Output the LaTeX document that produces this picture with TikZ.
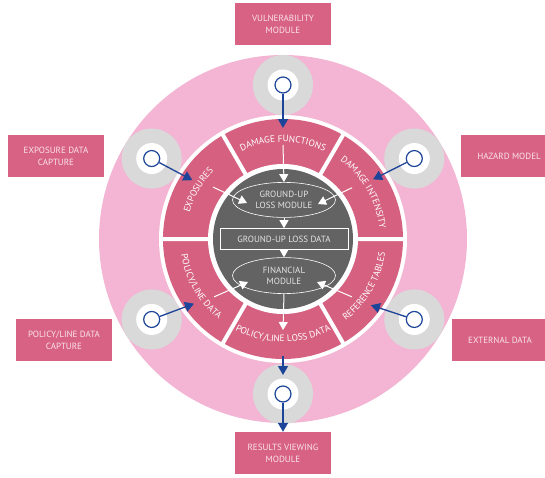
\documentclass[tikz,border=0pt]{standalone}
\usepackage{fontspec}
\setmainfont{PT Sans}
\usetikzlibrary{positioning,shapes.geometric,arrows.meta,decorations.text}

\definecolor{ringpink}{RGB}{243,181,211}
\definecolor{segpink}{RGB}{214,96,128}
\definecolor{boxpink}{RGB}{216,98,131}
\definecolor{satgray}{RGB}{217,217,217}
\definecolor{coregray}{RGB}{99,99,99}
\definecolor{linkblue}{RGB}{28,68,152}
\definecolor{boxtext}{RGB}{250,228,236}
\definecolor{coretext}{RGB}{228,228,228}

\newcommand{\segfont}{\fontsize{9.3}{10}\selectfont}

\tikzset{
  infobox/.style={fill=boxpink, text=boxtext, minimum width=96pt, minimum height=42pt, align=center, font=\fontsize{9}{12}\selectfont, inner sep=0pt},
  satdot/.style={circle, draw=linkblue, fill=white, line width=1.2pt, minimum size=16pt, inner sep=0pt},
  bluearrow/.style={color=linkblue, line width=1.3pt, -{Triangle[length=9pt,width=10pt]}},
  whitearrow/.style={color=white, line width=1pt, -{Triangle[length=8pt,width=9pt]}},
  coreshape/.style={draw=white, line width=0.6pt, text=coretext, align=center, font=\fontsize{9}{11}\selectfont, inner sep=0pt},
  segtext/.style={decorate, decoration={text along path, text align=center, text color=white}}
}

\begin{document}
\begin{tikzpicture}[x=1pt,y=1pt]
\useasboundingbox (-283,-238) rectangle (262,239);
% outer ring
\fill[ringpink] (0,0) circle[radius=184];
\coordinate (sv) at (90:154);
\coordinate (sh) at (31.5:154);
\coordinate (se) at (148.5:154);
\coordinate (sx) at (-31.5:154);
\coordinate (sp) at (-148.5:154);
\coordinate (sr) at (-90:155);
\fill[satgray] (sv) circle[radius=30] (sh) circle[radius=30] (se) circle[radius=30]
  (sx) circle[radius=30] (sp) circle[radius=30] (sr) circle[radius=30];
\fill[white] (sv) circle[radius=15.5] (sh) circle[radius=15.5] (se) circle[radius=15.5]
  (sx) circle[radius=15.5] (sp) circle[radius=15.5] (sr) circle[radius=15.5];
% segment ring
\fill[white] (0,0) circle[radius=124];
\fill[segpink] (0,0) circle[radius=120];
\fill[white] (0,0) circle[radius=75];
\fill[coregray] (0,0) circle[radius=70];
\draw[white, line width=4pt] (0:72) -- (0:122) (60:72) -- (60:122) (120:72) -- (120:122)
  (180:72) -- (180:122) (240:72) -- (240:122) (300:72) -- (300:122);
% segment labels
\path[segtext, decoration={text={|\segfont|DAMAGE FUNCTIONS}}] (120:97) arc[start angle=120, end angle=60, radius=97];
\path[segtext, decoration={text={|\segfont|DAMAGE INTENSITY}}] (60:97) arc[start angle=60, end angle=0, radius=97];
\path[segtext, decoration={text={|\segfont|EXPOSURES}}] (180:97) arc[start angle=180, end angle=120, radius=97];
\path[segtext, decoration={text={|\segfont|POLICY/LINE DATA}}] (180:103) arc[start angle=180, end angle=240, radius=103];
\path[segtext, decoration={text={|\segfont|POLICY/LINE LOSS DATA}}] (240:103) arc[start angle=240, end angle=300, radius=103];
\path[segtext, decoration={text={|\segfont|REFERENCE TABLES}}] (300:103) arc[start angle=300, end angle=360, radius=103];
% core modules
\node[coreshape, rectangle, minimum width=128pt, minimum height=21pt] (gld) at (1,0) {GROUND-UP LOSS DATA};
\node[coreshape, ellipse, minimum width=103pt, minimum height=35pt, above=10.5pt of gld] (glm) {GROUND-UP\\LOSS MODULE};
\node[coreshape, ellipse, minimum width=103pt, minimum height=36pt, below=7.5pt of gld] (fin) {FINANCIAL\\MODULE};
\coordinate (dfo) at (90:94);
\coordinate (expo) at (143.4:87);
\coordinate (dio) at (36.6:86);
\coordinate (refo) at (-40:90);
\coordinate (polo) at (-140:90);
\coordinate (expi) at (-36,36);
\coordinate (dii) at (35,35);
\coordinate (refi) at (34,-43);
\coordinate (poli) at (-35,-43);
\coordinate (plo) at (0,-91);
\draw[whitearrow] (dfo) -- (glm.north);
\draw[whitearrow] (expo) -- (expi);
\draw[whitearrow] (dio) -- (dii);
\draw[whitearrow] (glm.south) -- (gld.north);
\draw[whitearrow] (gld.south) -- (fin.north);
\draw[whitearrow] (refo) -- (refi);
\draw[whitearrow] (polo) -- (poli);
\draw[whitearrow] (fin.south) -- (plo);
% outside boxes
\node[infobox] (vul) at (0,215) {VULNERABILITY\\MODULE};
\node[infobox] (exp) at (-227,83) {EXPOSURE DATA\\CAPTURE};
\node[infobox] (haz) at (226,83) {HAZARD MODEL};
\node[infobox] (pol) at (-219,-101) {POLICY/LINE DATA\\CAPTURE};
\node[infobox] (ext) at (217,-101) {EXTERNAL DATA};
\node[infobox] (res) at (0,-214) {RESULTS VIEWING\\MODULE};
% satellite links
\node[satdot] (dv) at (sv) {};
\node[satdot] (dh) at (sh) {};
\node[satdot] (de) at (se) {};
\node[satdot] (dx) at (sx) {};
\node[satdot] (dp) at (sp) {};
\node[satdot] (dr) at (sr) {};
\coordinate (vin) at (90:111);
\coordinate (hin) at (33.5:108);
\coordinate (ein) at (147:108);
\coordinate (xin) at (-37:110);
\coordinate (pin) at (-144:110);
\coordinate (lout) at (-90:117);
\coordinate (rin) at (-90:136);
\draw[bluearrow] (dv) -- (vin);
\draw[bluearrow] (dh) -- (hin);
\draw[bluearrow] (de) -- (ein);
\draw[bluearrow] (dx) -- (xin);
\draw[bluearrow] (dp) -- (pin);
\draw[bluearrow] (lout) -- (rin);
\draw[bluearrow] (dr) -- (res.north);
\end{tikzpicture}
\end{document}
